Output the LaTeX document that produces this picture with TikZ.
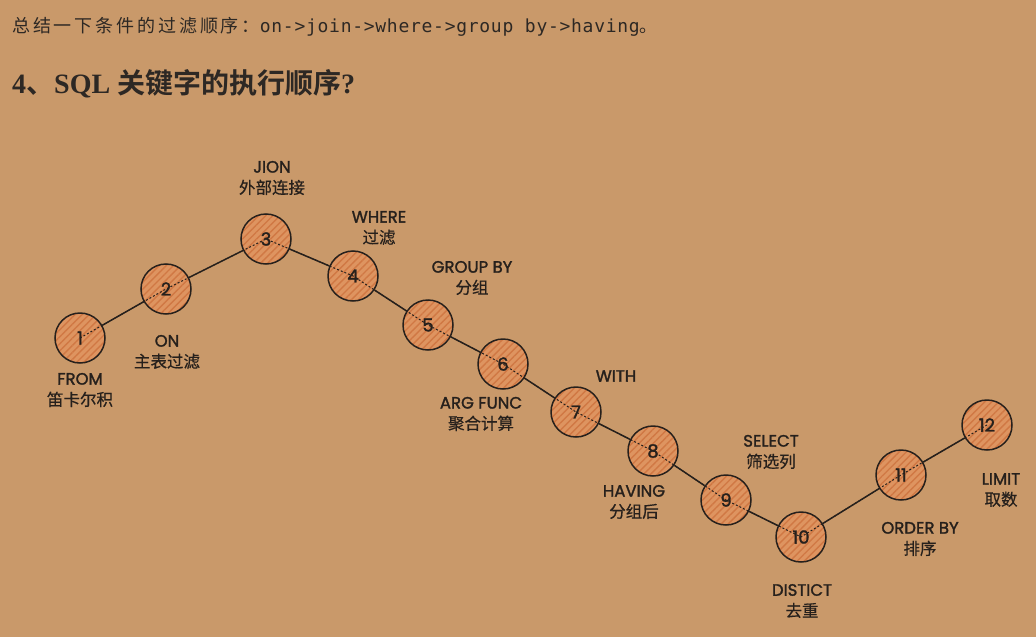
\documentclass[tikz,border=0pt]{standalone}
\usepackage{fontspec}
\setmainfont{Liberation Serif}
\newfontfamily\cjk{Noto Sans CJK SC}[LetterSpace=16]
\newfontfamily\cjkb{Noto Sans CJK SC}[BoldFont={* Bold}]
\newfontfamily\monof{DejaVu Sans Mono}[LetterSpace=4]
\newfontfamily\zh{Noto Sans CJK SC}[FakeBold=0.6]
\newfontfamily\latl{Poppins}[FakeBold=1.6]
\usetikzlibrary{patterns.meta}
\definecolor{bgc}{RGB}{201,153,106}
\definecolor{circf}{RGB}{222,148,96}
\definecolor{hatch}{RGB}{208,120,68}
\definecolor{ink}{RGB}{38,32,28}
\definecolor{txt}{RGB}{45,40,36}
\newcommand{\lb}[2]{{\latl\fontsize{16.5}{17}\selectfont #1}\\[6pt]{\zh\fontsize{16.5}{17}\selectfont #2}}
\tikzset{
  stage/.style={circle, minimum size=50pt, inner sep=0pt, draw=ink, line width=1.5pt,
    preaction={fill=circf},
    pattern={Lines[angle=45,distance=5pt,line width=1.4pt]}, pattern color=hatch},
  num/.style={font=\latl\fontsize{18}{18}\selectfont, text=ink},
  lab/.style={text=ink, align=center, inner sep=0pt},
  link/.style={draw=ink, line width=1.5pt},
  inner/.style={draw=ink, line width=1pt, dash pattern=on 2pt off 2pt}
}
\begin{document}
\begin{tikzpicture}[x=1pt,y=-1pt]
\fill[bgc] (0,0) rectangle (1036,637);
\useasboundingbox (0,0) rectangle (1036,637);
\node[anchor=west, text=txt, inner sep=0pt] (hdr) at (12,27)
  {\cjk\fontsize{18}{18}\selectfont 总结一下条件的过滤顺序：\monof\fontsize{18}{18}\selectfont on->join->where->group by->having\cjk 。};
\node[anchor=west, text=txt, inner sep=0pt] (ttl) at (12,84)
  {\fontsize{28}{28}\selectfont\bfseries 4\cjkb\bfseries 、\rmfamily\bfseries SQL \cjkb\bfseries 关键字的执行顺序\rmfamily\bfseries ?};

% circles
\node[stage] (c1) at (80,338) {};
\node[stage] (c2) at (166,289) {};
\node[stage] (c3) at (266,239) {};
\node[stage] (c4) at (353,276) {};
\node[stage] (c5) at (428,325) {};
\node[stage] (c6) at (503,364) {};
\node[stage] (c7) at (576,412) {};
\node[stage] (c8) at (653,451) {};
\node[stage] (c9) at (726,500) {};
\node[stage] (c10) at (801,537) {};
\node[stage] (c11) at (901,475) {};
\node[stage] (c12) at (987,425) {};

% dashed line inside circles
\draw[inner] (c1.center) -- (c2.center) -- (c3.center) -- (c4.center) -- (c5.center) -- (c6.center) -- (c7.center) -- (c8.center) -- (c9.center) -- (c10.center) -- (c11.center) -- (c12.center);
% solid links between circles
\foreach \a/\b in {c1/c2,c2/c3,c3/c4,c4/c5,c5/c6,c6/c7,c7/c8,c8/c9,c9/c10,c10/c11,c11/c12}
  \draw[link] (\a) -- (\b);

% numbers
\foreach \i in {1,...,12}
  \node[num] (n\i) at (c\i.center) {\i};

% labels
\node[lab] (l1) at (80,390) {\lb{FROM}{笛卡尔积}};
\node[lab] (l2) at (167,352) {\lb{ON}{主表过滤}};
\node[lab] (l3) at (272,178) {\lb{JION}{外部连接}};
\node[lab] (l4) at (379,228) {\lb{WHERE}{过滤}};
\node[lab] (l5) at (472,278) {\lb{GROUP BY}{分组}};
\node[lab] (l6) at (481,414) {\lb{ARG FUNC}{聚合计算}};
\node[lab] (l7) at (616,376) {{\latl\fontsize{16.5}{17}\selectfont WITH}};
\node[lab] (l8) at (634,502) {\lb{HAVING}{分组后}};
\node[lab] (l9) at (771,452) {\lb{SELECT}{筛选列}};
\node[lab] (l10) at (802,601) {\lb{DISTICT}{去重}};
\node[lab] (l11) at (920,539) {\lb{ORDER BY}{排序}};
\node[lab] (l12) at (1001,490) {\lb{LIMIT}{取数}};
\end{tikzpicture}
\end{document}
